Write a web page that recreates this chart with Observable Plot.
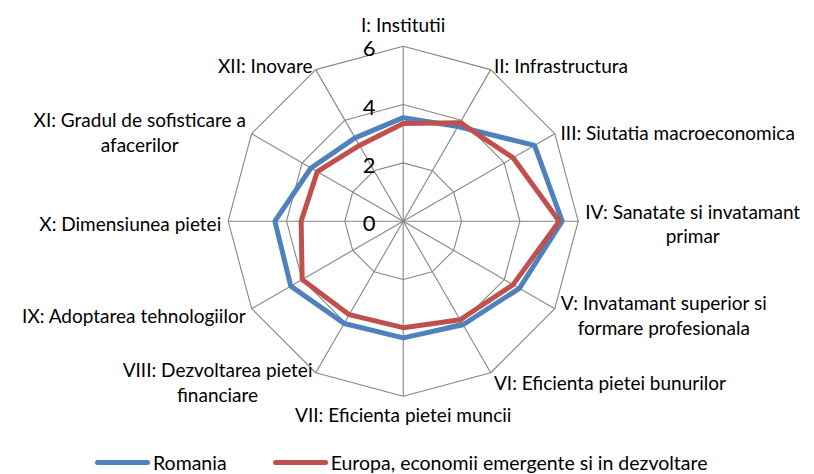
<!DOCTYPE html>
<html>
<head>
<meta charset="utf-8">
<script src="https://cdn.jsdelivr.net/npm/d3@7"></script>
<script src="https://cdn.jsdelivr.net/npm/@observablehq/plot@0.6"></script>
<style>
  html, body { margin: 0; padding: 0; background: #fff; overflow: hidden; }
  body { font-family: Lato, "Open Sans", sans-serif; }
  #legend { display: flex; align-items: center; height: 36px; padding-left: 95px; font-size: 19.5px; color: #000; }
  .sw { display: inline-block; width: 55px; height: 5px; border-radius: 3px; margin-right: 3px; }
  .item { display: flex; align-items: center; margin-right: 46px; }
</style>
</head>
<body>
<div id="chart"></div>
<div id="legend"></div>
<script>
// ---- data ----
const axesLabels = [
  "I: Institutii",
  "II: Infrastructura",
  "III: Siutatia macroeconomica",
  "IV: Sanatate si invatamant\nprimar",
  "V: Invatamant superior si\nformare profesionala",
  "VI: Eficienta pietei bunurilor",
  "VII: Eficienta pietei muncii",
  "VIII: Dezvoltarea pietei\nfinanciare",
  "IX: Adoptarea tehnologiilor",
  "X: Dimensiunea pietei",
  "XI: Gradul de sofisticare a\nafacerilor",
  "XII: Inovare"
];
const seriesNames = ["Romania", "Europa, economii emergente si in dezvoltare"];
const romania = [3.55, 3.75, 5.2, 5.45, 4.6, 4.1, 4.0, 4.05, 4.45, 4.4, 3.65, 3.3];
const europa  = [3.35, 3.9, 4.35, 5.35, 4.35, 3.9, 3.65, 3.7, 4.0, 3.5, 3.4, 3.0];
const tickValues = [0, 2, 4, 6];
const gridLevels = [2, 4, 6];
const maxValue = 6;
const colors = ["#4F81BD", "#C0504D"];

// ---- derived ----
const n = axesLabels.length;
const ang = i => i * 2 * Math.PI / n;
const toPts = (vals, name) => vals.map((v, i) => ({series: name, i, x: v * Math.sin(ang(i)), y: v * Math.cos(ang(i))}));
const seriesData = [...toPts(romania, seriesNames[0]), ...toPts(europa, seriesNames[1])];
const gridData = gridLevels.flatMap(l => axesLabels.map((a, i) => ({level: l, x: l * Math.sin(ang(i)), y: l * Math.cos(ang(i))})));
const spokes = axesLabels.map((a, i) => ({x2: maxValue * Math.sin(ang(i)), y2: maxValue * Math.cos(ang(i))}));

const labelSize = 19;
const ctx = document.createElement("canvas").getContext("2d");
ctx.font = `${labelSize}px Lato`;
const blockWidth = s => Math.max(...s.split("\n").map(t => ctx.measureText(t).width));

const labelMarks = axesLabels.map((label, i) => {
  const s = Math.sin(ang(i)), c = Math.cos(ang(i));
  const side = Math.abs(s) < 0.01 ? 0 : Math.sign(s);
  const w = blockWidth(label);
  const gap = 2 + 5 * s * s;
  const dx = side * (gap + w / 2);
  const dy = side === 0 ? (c > 0 ? -22 : 18) : -8 * c + 2;
  return Plot.text([label], {
    x: () => maxValue * s, y: () => maxValue * c, text: d => d,
    textAnchor: "middle", lineAnchor: "middle", lineHeight: 1.3,
    dx, dy, fontSize: labelSize, fill: "#000", fontFamily: "Lato"
  });
});

const chart = Plot.plot({
  width: 814, height: 444,
  marginLeft: 227.7, marginRight: 236.3, marginTop: 45.7, marginBottom: 48.3,
  x: {domain: [-maxValue, maxValue], axis: null},
  y: {domain: [-maxValue, maxValue], axis: null},
  color: {domain: seriesNames, range: colors},
  style: {fontFamily: "Lato", background: "#fff"},
  marks: [
    Plot.line(gridData, {x: "x", y: "y", z: "level", curve: "linear-closed", stroke: "#868686", strokeWidth: 1.1}),
    Plot.link(spokes, {x1: () => 0, y1: () => 0, x2: "x2", y2: "y2", stroke: "#868686", strokeWidth: 1.1}),
    Plot.line(seriesData, {x: "x", y: "y", z: "series", stroke: "series", curve: "linear-closed", strokeWidth: 5, strokeLinejoin: "miter"}),
    Plot.text(tickValues, {x: () => 0, y: d => d, text: d => String(d), dx: -34, dy: 3, fontSize: 22, fill: "#000", textAnchor: "middle", fontFamily: "Lato"}),
    ...labelMarks
  ]
});
document.getElementById("chart").appendChild(chart);

const legend = document.getElementById("legend");
seriesNames.forEach((name, k) => {
  const item = document.createElement("div");
  item.className = "item";
  const sw = document.createElement("span");
  sw.className = "sw";
  sw.style.background = colors[k];
  item.appendChild(sw);
  const t = document.createElement("span");
  t.textContent = name;
  item.appendChild(t);
  legend.appendChild(item);
});
</script>
</body>
</html>
